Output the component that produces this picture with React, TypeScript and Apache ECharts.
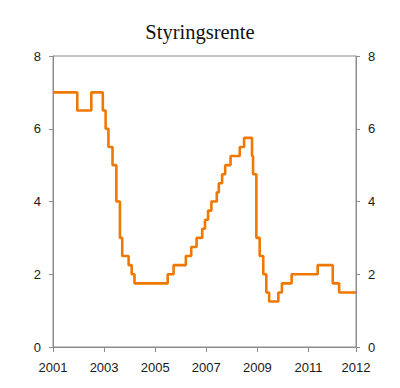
import React, { useEffect, useRef } from "react";
import * as echarts from "echarts";

// Change dates (fractional years) and key policy rate (percent) in effect from that date
const changeDates = [
  2001.0, 2001.95, 2002.5, 2002.95, 2003.06, 2003.17, 2003.33, 2003.48, 2003.62, 2003.71,
  2003.96, 2004.08, 2004.19, 2005.49, 2005.72, 2006.2, 2006.41, 2006.62, 2006.84, 2006.95,
  2007.07, 2007.2, 2007.41, 2007.49, 2007.62, 2007.74, 2007.95, 2008.31, 2008.48, 2008.79,
  2008.83, 2008.96, 2009.09, 2009.23, 2009.35, 2009.46, 2009.82, 2009.96, 2010.34, 2011.36,
  2011.95, 2012.2, 2012.86,
];
const rates = [
  7.0, 6.5, 7.0, 6.5, 6.0, 5.5, 5.0, 4.0, 3.0, 2.5,
  2.25, 2.0, 1.75, 2.0, 2.25, 2.5, 2.75, 3.0, 3.25, 3.5,
  3.75, 4.0, 4.25, 4.5, 4.75, 5.0, 5.25, 5.5, 5.75, 5.25,
  4.75, 3.0, 2.5, 2.0, 1.5, 1.25, 1.5, 1.75, 2.0, 2.25,
  1.75, 1.5, 1.5,
];
const startYear = 2001;
const endYear = 2012.86;
const endLabel = "2012";
const yTicks = [0, 2, 4, 6, 8];
const title = "Styringsrente";

export default function App() {
  const ref = useRef<HTMLDivElement>(null);
  useEffect(() => {
    if (!ref.current) return;
    const chart = echarts.init(ref.current, undefined, { renderer: "svg" });
    const data = changeDates.map((d, i) => [d - startYear, rates[i]]);
    const axisColor = "#8c8c8c";
    const labelStyle = { color: "#1a1a1a", fontSize: 13, fontFamily: "Liberation Sans, Arial, sans-serif" };
    const yAxisCommon = {
      type: "value" as const,
      min: yTicks[0],
      max: yTicks[yTicks.length - 1],
      interval: 2,
      splitLine: { show: false },
      axisLine: { show: true, lineStyle: { color: axisColor, width: 1 } },
      axisTick: { show: true, length: 4, lineStyle: { color: axisColor } },
      axisLabel: { ...labelStyle, margin: 12 },
    };
    chart.setOption({
      animation: false,
      title: {
        text: title,
        left: "center",
        top: 16,
        textStyle: {
          fontFamily: "Liberation Serif, Times New Roman, serif",
          fontWeight: "normal",
          fontSize: 20.5,
          color: "#111",
        },
      },
      grid: {
        left: 53,
        top: 56,
        width: 303,
        height: 291,
        show: true,
        borderColor: axisColor,
        borderWidth: 1,
        containLabel: false,
      },
      xAxis: {
        type: "value",
        min: 0,
        max: endYear - startYear,
        interval: 2,
        splitLine: { show: false },
        axisLine: { show: true, lineStyle: { color: axisColor, width: 1 } },
        axisTick: { show: true, length: 5, lineStyle: { color: axisColor } },
        axisLabel: {
          ...labelStyle,
          margin: 14,
          showMaxLabel: true,
          showMinLabel: true,
          formatter: (v: number) => (v > 11 ? endLabel : String(Math.round(v) + startYear)),
        },
      },
      yAxis: [
        { ...yAxisCommon, position: "left" },
        { ...yAxisCommon, position: "right" },
      ],
      series: [
        {
          type: "line",
          step: "end",
          data,
          symbol: "none",
          lineStyle: { color: "#f07800", width: 2.6 },
          yAxisIndex: 0,
        },
      ],
    });
    return () => chart.dispose();
  }, []);
  return <div ref={ref} style={{ width: 400, height: 388, position: "absolute", left: 0, top: 0 }} />;
}
